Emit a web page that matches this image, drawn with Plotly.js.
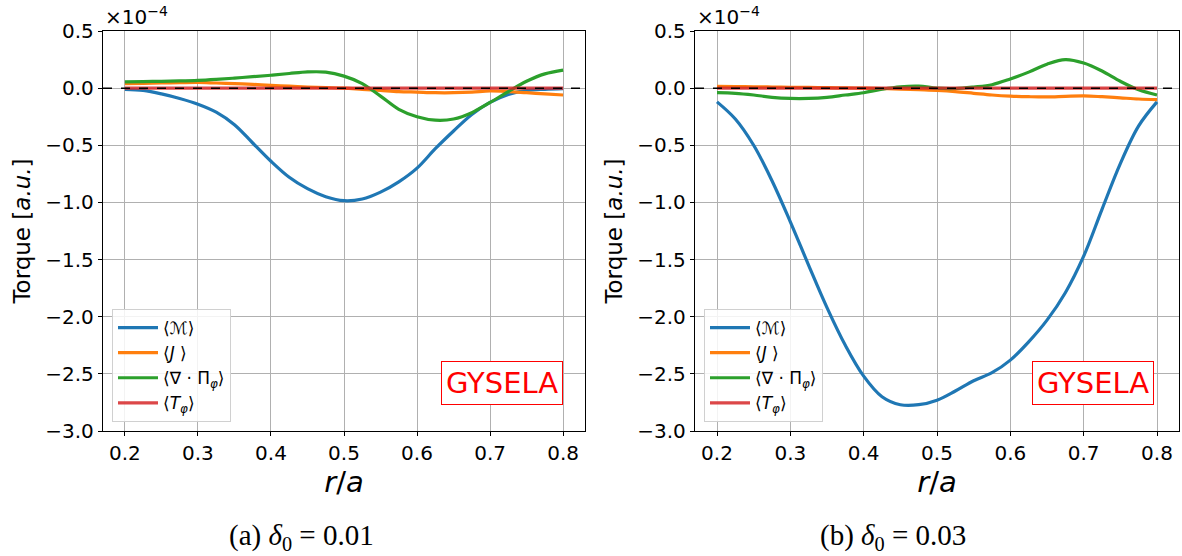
<!DOCTYPE html>
<html>
<head>
<meta charset="utf-8">
<script src="https://cdn.plot.ly/plotly-3.0.1.min.js"></script>
<style>
html,body{margin:0;padding:0;background:#fff;}
#chart{width:1182px;height:556px;}
</style>
</head>
<body>
<div id="chart"></div>
<script>
// r/a sample positions (shared by both panels)
const r = [0.2,0.225,0.25,0.275,0.3,0.325,0.35,0.375,0.4,0.425,0.45,0.475,0.5,0.525,0.55,0.575,0.6,0.625,0.65,0.675,0.7,0.725,0.75,0.775,0.8];

// Panel (a): delta0 = 0.01, torque in units of 1e-4
const M_a  = [-0.01,-0.02,-0.05,-0.09,-0.14,-0.21,-0.32,-0.48,-0.64,-0.78,-0.88,-0.95,-0.985,-0.97,-0.91,-0.82,-0.70,-0.53,-0.375,-0.23,-0.125,-0.055,-0.02,-0.01,-0.005];
const J_a  = [0.04,0.042,0.045,0.048,0.05,0.045,0.04,0.033,0.025,0.017,0.01,0.005,0.0,-0.01,-0.02,-0.03,-0.035,-0.04,-0.04,-0.035,-0.025,-0.03,-0.04,-0.05,-0.06];
const P_a  = [0.055,0.057,0.06,0.063,0.068,0.077,0.088,0.10,0.113,0.128,0.142,0.14,0.105,0.04,-0.07,-0.185,-0.25,-0.28,-0.27,-0.215,-0.125,-0.03,0.06,0.125,0.158];
const T_a  = [0,0,0,0,0,0,0,0,0,0,0,0,0,0,0,0,0,0,0,0,0,0,0,0,0];

// Panel (b): delta0 = 0.03
const M_b  = [-0.12,-0.27,-0.5,-0.81,-1.17,-1.55,-1.92,-2.25,-2.52,-2.70,-2.77,-2.77,-2.73,-2.65,-2.56,-2.49,-2.38,-2.22,-2.03,-1.79,-1.47,-1.06,-0.66,-0.33,-0.12];
const J_b  = [0.015,0.013,0.012,0.01,0.008,0.006,0.004,0.002,0.0,-0.004,-0.008,-0.014,-0.02,-0.03,-0.045,-0.06,-0.07,-0.075,-0.077,-0.072,-0.068,-0.075,-0.085,-0.095,-0.1];
const P_b  = [-0.04,-0.045,-0.06,-0.08,-0.09,-0.09,-0.08,-0.06,-0.04,-0.01,0.012,0.018,0.0,-0.003,0.01,0.03,0.08,0.14,0.21,0.25,0.22,0.15,0.06,-0.015,-0.06];
const T_b  = [0,0,0,0,0,0,0,0,0,0,0,0,0,0,0,0,0,0,0,0,0,0,0,0,0];

const names = ['⟨ℳ⟩', '⟨<i>J</i> ⟩', '⟨∇ · Π<sub><i>φ</i></sub>⟩', '⟨<i>T</i><sub><i>φ</i></sub>⟩'];
const colors = ['#1f77b4','#ff7f0e','#2ca02c','#d62728'];

const xTicks = [0.2,0.3,0.4,0.5,0.6,0.7,0.8];
const yTicks = [0.5,0.0,-0.5,-1.0,-1.5,-2.0,-2.5,-3.0];
const panelTitles = ['(a) <i>δ</i><sub>0</sub> = 0.01', '(b) <i>δ</i><sub>0</sub> = 0.03'];

function mk(y, i, xa, ya, leg){
  return {x:r, y:y, xaxis:xa, yaxis:ya, type:'scatter', mode:'lines',
    name:names[i], legend:leg,
    line:{color:colors[i], width:3.2, shape:'spline', smoothing:1.0},
    opacity: i===3 ? 0.85 : 1};
}
const data = [
  mk(M_a,0,'x','y','legend'), mk(J_a,1,'x','y','legend'), mk(P_a,2,'x','y','legend'), mk(T_a,3,'x','y','legend'),
  mk(M_b,0,'x2','y2','legend2'), mk(J_b,1,'x2','y2','legend2'), mk(P_b,2,'x2','y2','legend2'), mk(T_b,3,'x2','y2','legend2')
];

const FONT = 'DejaVu Sans';
const tickFont = {family:FONT, size:20, color:'#000'};
function xax(dom){
  return {domain:dom, range:[0.17,0.83], tickvals:xTicks, tickformat:'.1f',
    showgrid:true, gridcolor:'#b0b0b0', gridwidth:1, zeroline:false,
    showline:true, mirror:true, linecolor:'#000', linewidth:1.2,
    ticks:'outside', ticklen:4, tickcolor:'#000', tickfont:tickFont,
    title:{text:'<i>r</i>/<i>a</i>', font:{family:FONT, size:29, color:'#000'}, standoff:4}};
}
function yax(anchor){
  return {domain:[1-431/556, 1-31/556], range:[-3.0,0.5], tickvals:yTicks, tickformat:'.1f', anchor:anchor,
    showgrid:true, gridcolor:'#b0b0b0', gridwidth:1, zeroline:false,
    showline:true, mirror:true, linecolor:'#000', linewidth:1.2,
    ticks:'outside', ticklen:4, tickcolor:'#000', tickfont:tickFont,
    title:{text:'Torque [<i>a.u.</i>]', font:{family:FONT, size:23, color:'#000'}, standoff:8}};
}
const legStyle = (x)=>({x:x, y:1-422/556, xanchor:'left', yanchor:'bottom',
  bgcolor:'rgba(255,255,255,0.85)', bordercolor:'#d0d0d0', borderwidth:1,
  font:{family:FONT, size:17, color:'#000'}, tracegroupgap:0, itemwidth:40});

const layout = {
  width:1182, height:556, margin:{l:0,r:0,t:0,b:0},
  paper_bgcolor:'#fff', plot_bgcolor:'#fff', showlegend:true,
  xaxis: Object.assign(xax([103/1182, 585/1182]), {anchor:'y'}),
  yaxis: yax('x'),
  xaxis2: Object.assign(xax([695/1182, 1179/1182]), {anchor:'y2'}),
  yaxis2: yax('x2'),
  legend: legStyle(112/1182),
  legend2: legStyle(704/1182),
  shapes: [
    {type:'line', xref:'x domain', yref:'y', x0:0, x1:1, y0:0, y1:0, line:{color:'#000', width:1.5, dash:'dash'}},
    {type:'line', xref:'x2 domain', yref:'y2', x0:0, x1:1, y0:0, y1:0, line:{color:'#000', width:1.5, dash:'dash'}}
  ],
  annotations: [
    {xref:'x domain', yref:'y domain', x:0, y:1, xanchor:'left', yanchor:'bottom', showarrow:false,
     text:'×10<sup>−4</sup>', font:{family:FONT, size:20, color:'#000'}},
    {xref:'x2 domain', yref:'y2 domain', x:0, y:1, xanchor:'left', yanchor:'bottom', showarrow:false,
     text:'×10<sup>−4</sup>', font:{family:FONT, size:20, color:'#000'}},
    {xref:'x domain', yref:'y domain', x:(563-103)/482, y:(431-383)/400, xanchor:'right', yanchor:'middle', showarrow:false,
     text:'GYSELA', font:{family:FONT, size:29, color:'#ff0000'}, bordercolor:'#ff0000', borderwidth:1, borderpad:4, bgcolor:'#fff'},
    {xref:'x2 domain', yref:'y2 domain', x:(1154-695)/484, y:(431-383)/400, xanchor:'right', yanchor:'middle', showarrow:false,
     text:'GYSELA', font:{family:FONT, size:29, color:'#ff0000'}, bordercolor:'#ff0000', borderwidth:1, borderpad:4, bgcolor:'#fff'},
    {xref:'paper', yref:'paper', x:301/1182, y:1-537/556, xanchor:'center', yanchor:'middle', showarrow:false,
     text:panelTitles[0], font:{family:'Liberation Serif', size:29, color:'#000'}},
    {xref:'paper', yref:'paper', x:893/1182, y:1-537/556, xanchor:'center', yanchor:'middle', showarrow:false,
     text:panelTitles[1], font:{family:'Liberation Serif', size:29, color:'#000'}}
  ]
};

Plotly.newPlot('chart', data, layout, {displayModeBar:false, staticPlot:true});
</script>
</body>
</html>
